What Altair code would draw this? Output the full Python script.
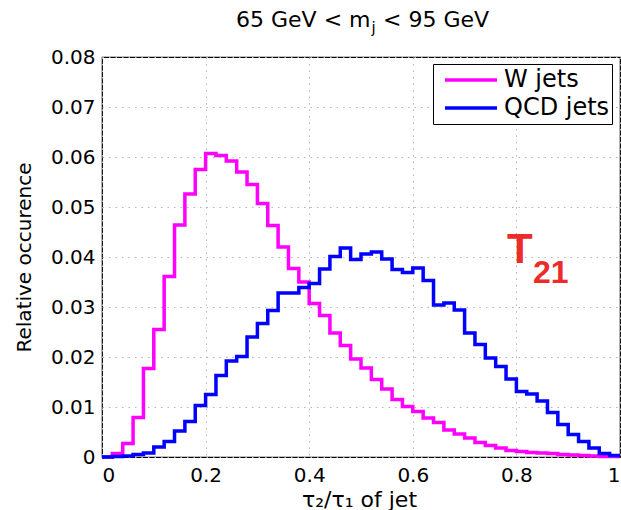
import altair as alt
import pandas as pd

# ---- data ----
BIN_LEFT = [0.00, 0.02, 0.04, 0.06, 0.08, 0.10, 0.12, 0.14, 0.16, 0.18,
            0.20, 0.22, 0.24, 0.26, 0.28, 0.30, 0.32, 0.34, 0.36, 0.38,
            0.40, 0.42, 0.44, 0.46, 0.48, 0.50, 0.52, 0.54, 0.56, 0.58,
            0.60, 0.62, 0.64, 0.66, 0.68, 0.70, 0.72, 0.74, 0.76, 0.78,
            0.80, 0.82, 0.84, 0.86, 0.88, 0.90, 0.92, 0.94, 0.96, 0.98]
X_END = 1.0

W_JETS = [0.0000, 0.0007, 0.0027, 0.0079, 0.0177, 0.0255, 0.0361, 0.0464, 0.0526, 0.0575,
          0.0607, 0.0603, 0.0592, 0.0570, 0.0545, 0.0507, 0.0463, 0.0420, 0.0377, 0.0350,
          0.0307, 0.0283, 0.0248, 0.0223, 0.0196, 0.0178, 0.0155, 0.0136, 0.0115, 0.0101,
          0.0091, 0.0078, 0.0069, 0.0054, 0.0046, 0.0038, 0.0029, 0.0023, 0.0018, 0.0013,
          0.0011, 0.0009, 0.0008, 0.0007, 0.0005, 0.0004, 0.0003, 0.0002, 0.0001, 0.0001]

QCD_JETS = [0.0000, 0.0001, 0.0002, 0.0005, 0.0008, 0.0020, 0.0031, 0.0052, 0.0071, 0.0103,
            0.0125, 0.0163, 0.0192, 0.0201, 0.0240, 0.0267, 0.0293, 0.0328, 0.0328, 0.0339,
            0.0347, 0.0376, 0.0401, 0.0418, 0.0395, 0.0406, 0.0410, 0.0396, 0.0375, 0.0369,
            0.0378, 0.0353, 0.0304, 0.0308, 0.0294, 0.0248, 0.0225, 0.0198, 0.0181, 0.0156,
            0.0131, 0.0126, 0.0112, 0.0089, 0.0065, 0.0045, 0.0031, 0.0018, 0.0007, 0.0003]

SERIES = ["W jets", "QCD jets"]
COLORS = ["#ff00ff", "#0000ff"]

X_TICKS = [0, 0.2, 0.4, 0.6, 0.8, 1.0]
Y_TICKS = [0, 0.01, 0.02, 0.03, 0.04, 0.05, 0.06, 0.07, 0.08]

TITLE_LEFT = ["65 GeV < m"]
TITLE_SUB = ["j"]
TITLE_RIGHT = ["< 95 GeV"]
X_TITLE = "τ₂/τ₁ of jet"
Y_TITLE = "Relative occurence"
ANNOT_MAIN = ["T"]
ANNOT_SUB = ["21"]

W, H = 518, 400
FONT = "DejaVu Sans"

rows = []
for name, vals in zip(SERIES, [W_JETS, QCD_JETS]):
    for x, v in zip(BIN_LEFT, vals):
        rows.append({"x": x, "y": v, "series": name})
    rows.append({"x": X_END, "y": vals[-1], "series": name})
df = pd.DataFrame(rows)

x_enc = alt.X("x:Q", scale=alt.Scale(domain=[0, 1], nice=False, zero=False),
              axis=alt.Axis(values=X_TICKS, format="~g", title=X_TITLE,
                            labelPadding=8, titleFontSize=22,
                            titleX=257, titleY=49, titleBaseline="alphabetic"))
y_enc = alt.Y("y:Q", scale=alt.Scale(domain=[0, 0.08], nice=False),
              axis=alt.Axis(values=Y_TICKS, format="~g", title=Y_TITLE,
                            labelPadding=7, titleFontSize=20,
                            titleAngle=-90, titleX=-78, titleY=H / 2,
                            titleBaseline="middle", titleAlign="center"))
c_enc = alt.Color("series:N", scale=alt.Scale(domain=SERIES, range=COLORS),
                  legend=alt.Legend(orient="none", legendX=331, legendY=7, title=None,
                                    symbolType="stroke", symbolSize=2704,
                                    symbolStrokeWidth=3.5, clipHeight=28,
                                    labelFont=FONT, labelFontSize=24, labelColor="black",
                                    labelOffset=5, rowPadding=0, padding=2,
                                    symbolOffset=8,
                                    strokeColor="black", fillColor="white"))

base = alt.Chart(df).mark_line(interpolate="step-after", strokeWidth=3.5).encode(
    x=x_enc, y=y_enc, color=c_enc)
line_w = base.transform_filter(alt.datum.series == SERIES[0])
line_q = base.transform_filter(alt.datum.series == SERIES[1])

title_l = alt.Chart(pd.DataFrame({"t": TITLE_LEFT})).mark_text(
    font=FONT, fontSize=22, align="right", baseline="alphabetic", color="black"
).encode(x=alt.value(268.5), y=alt.value(-30), text="t:N")
title_s = alt.Chart(pd.DataFrame({"t": TITLE_SUB})).mark_text(
    font=FONT, fontSize=15, align="left", baseline="alphabetic", color="black"
).encode(x=alt.value(269.5), y=alt.value(-24), text="t:N")
title_r = alt.Chart(pd.DataFrame({"t": TITLE_RIGHT})).mark_text(
    font=FONT, fontSize=22, align="left", baseline="alphabetic", color="black"
).encode(x=alt.value(281), y=alt.value(-30), text="t:N")

annot_t = alt.Chart(pd.DataFrame({"t": ANNOT_MAIN})).mark_text(
    font="Liberation Sans", fontSize=42, fontWeight="bold", align="left",
    baseline="alphabetic", color="#ee2b2b"
).encode(x=alt.value(405), y=alt.value(206), text="t:N")
annot_s = alt.Chart(pd.DataFrame({"t": ANNOT_SUB})).mark_text(
    font="Liberation Sans", fontSize=32, fontWeight="bold", align="left",
    baseline="alphabetic", color="#ee2b2b"
).encode(x=alt.value(431), y=alt.value(226), text="t:N")

chart = alt.layer(line_w, line_q, title_l, title_s, title_r, annot_t, annot_s).properties(
    width=W, height=H,
    autosize=alt.AutoSizeParams(type="none"),
    padding={"left": 102, "top": 57, "right": 1, "bottom": 53},
    background="white",
).configure_axis(
    grid=True, gridColor="#b4b4b4", gridDash=[1.5, 5], gridWidth=1,
    domain=False, ticks=False,
    labelFont=FONT, labelFontSize=20, labelColor="black",
    titleFont=FONT, titleColor="black", titleFontWeight="normal",
).configure_view(stroke="black", strokeWidth=1.2)

chart.save("out.html", embed_options={"renderer": "svg", "actions": False})
